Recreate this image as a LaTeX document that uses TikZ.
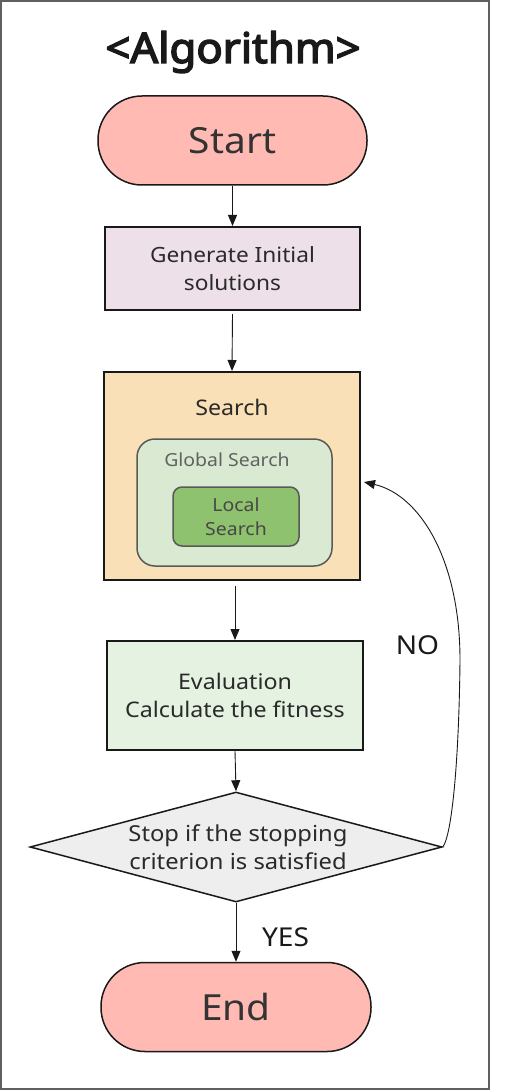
\documentclass[tikz,border=0pt]{standalone}
\usepackage{fontspec}
\setmainfont{Noto Sans}[FakeStretch=1.08]
\newfontfamily\titlefont{Noto Sans}[FakeBold=3.5,FakeStretch=1.04]
\usetikzlibrary{arrows.meta,shapes.geometric}
\definecolor{pillfill}{HTML}{FFBBB3}
\definecolor{genfill}{HTML}{EDE0E8}
\definecolor{searchfill}{HTML}{F9E0B6}
\definecolor{globalfill}{HTML}{DAEAD2}
\definecolor{localfill}{HTML}{8FC26E}
\definecolor{evalfill}{HTML}{E6F2E1}
\definecolor{decfill}{HTML}{EEEEEE}
\definecolor{txt}{HTML}{2A2A2A}
\definecolor{frame}{HTML}{606060}
\tikzset{
  pill/.style={draw=black!90, line width=1.5pt, fill=pillfill, rounded corners=44pt, minimum height=89pt, text=black!80, font=\fontsize{36}{40}\selectfont},
  box/.style={draw=black!90, line width=2pt, text=txt, align=center, font=\fontsize{21.5}{28}\selectfont},
  inner/.style={draw=black!65, line width=1.5pt, align=center},
  arr/.style={draw=black!90, line width=0.9pt, -{Triangle[length=11pt,width=9pt]}},
  lbl/.style={text=black!90, font=\fontsize{26}{28}\selectfont}
}
\begin{document}
\begin{tikzpicture}[x=1pt,y=-1pt]
\useasboundingbox (0,0) rectangle (510,1091);
\draw[frame, line width=2pt] (1,1) rectangle (489,1089);
\node[font=\titlefont\fontsize{42}{46}\selectfont, text=black!90] (title) at (233,52) {<Algorithm>};
\node[pill, minimum width=269pt] (start) at (232.5,140.5) {Start};
\node[box, fill=genfill, minimum width=255pt, minimum height=83pt, font=\fontsize{21}{28}\selectfont] (gen) at (232.5,268.5) {Generate Initial\\solutions};
\node[box, fill=searchfill, minimum width=256pt, minimum height=208pt] (search) at (232,476) {};
\node[text=txt, font=\fontsize{21.5}{26}\selectfont] (searchlbl) at (232,407) {Search};
\node[inner, fill=globalfill, rounded corners=18pt, minimum width=195pt, minimum height=127pt] (global) at (234.5,502.5) {};
\node[text=black!62, font=\fontsize{18}{22}\selectfont] (globallbl) at (227,460) {Global Search};
\node[inner, fill=localfill, rounded corners=9pt, minimum width=126pt, minimum height=59pt, text=black!72, font=\fontsize{18}{24}\selectfont] (local) at (236,516.5) {Local\\Search};
\node[box, fill=evalfill, minimum width=256pt, minimum height=109pt] (eval) at (235,695.5) {Evaluation\\Calculate the fitness};
\node[diamond, aspect=3.745, draw=black!90, line width=1.5pt, fill=decfill, minimum width=412pt, minimum height=110pt, inner sep=0pt] (dec) at (236,847) {};
\node[text=txt, align=center, font=\fontsize{22}{28}\selectfont] (dectext) at (238,847) {Stop if the stopping\\criterion is satisfied};
\node[pill, minimum width=270pt] (end) at (236,1007) {End};
\draw[arr] (start.south) -- (gen.north);
\draw[arr] ([yshift=-3pt]gen.south) -- (search.north);
\draw[arr] ([xshift=3pt,yshift=-5pt]search.south) -- (eval.north);
\draw[arr] (eval.south) -- (dec.north);
\draw[arr] (dec.south) -- (end.north);
\coordinate (noend) at (364,482);
\draw[arr] (dec.east) .. controls (452,835) and (459,760) .. (460,660) .. controls (460,560) and (420,495) .. (noend);
\node[lbl] (yes) at (285.5,937) {YES};
\node[lbl] (no) at (417.5,645.5) {NO};
\end{tikzpicture}
\end{document}
